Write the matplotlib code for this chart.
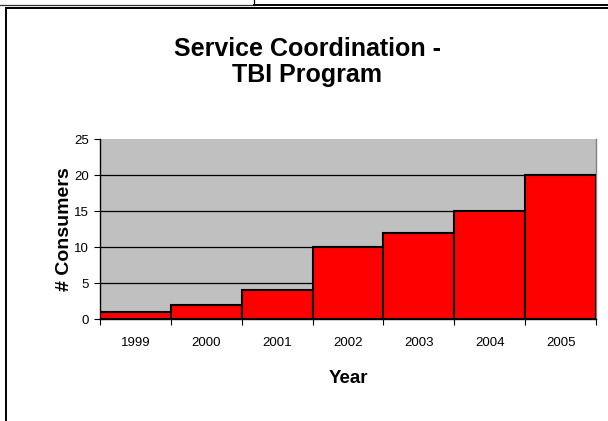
import matplotlib
matplotlib.use("Agg")
import matplotlib.pyplot as plt
from matplotlib.lines import Line2D

years = ["1999", "2000", "2001", "2002", "2003", "2004", "2005"]
consumers = [1, 2, 4, 10, 12, 15, 20]
y_ticks = [0, 5, 10, 15, 20, 25]

plt.rcParams['font.family'] = ['Liberation Sans', 'DejaVu Sans']

W, H = 608, 421
fig = plt.figure(figsize=(W / 100, H / 100), dpi=100)
fig.patch.set_facecolor('white')

def fx(px):
    return px / W

def fy(py):
    return 1 - py / H

# plot area in pixel coords
L, R, T, B = 100, 596, 139, 319
ax = fig.add_axes([fx(L), fy(B), fx(R) - fx(L), fy(T) - fy(B)])
ax.set_facecolor('#C0C0C0')

x = list(range(len(years)))
ax.bar(x, consumers, width=1.0, color='#FF0000', edgecolor='black', linewidth=1.5, zorder=3)
for v in y_ticks[1:-1]:
    ax.axhline(v, color='black', linewidth=0.9, zorder=1)

ax.set_xlim(-0.5, len(years) - 0.5)
ax.set_ylim(0, 25)
ax.set_yticks(y_ticks)
ax.set_xticks(x)
ax.set_xticklabels(years)
ax.set_xticks([i - 0.5 for i in range(len(years) + 1)], minor=True)
ax.tick_params(axis='x', which='major', length=0, pad=13, labelsize=9.5)
ax.tick_params(axis='x', which='minor', length=4, width=0.8, direction='out')
ax.tick_params(axis='y', length=4, width=0.8, direction='out', pad=4, labelsize=9.5)

ax.spines['left'].set_color('black')
ax.spines['bottom'].set_color('black')
ax.spines['left'].set_linewidth(1.0)
ax.spines['bottom'].set_linewidth(1.0)
ax.spines['top'].set_visible(False)
ax.spines['right'].set_color('#808080')
ax.spines['right'].set_linewidth(1.0)

ax.set_ylabel("# Consumers", fontsize=14, fontweight='bold', labelpad=1)
ax.set_xlabel("Year", fontsize=13.5, fontweight='bold', labelpad=15)

fig.text(fx(307), fy(62), "Service Coordination -\nTBI Program", ha='center', va='center',
         fontsize=18, fontweight='bold', linespacing=1.1)

# frame lines
fig.add_artist(Line2D([fx(0), fx(254)], [fy(4.5), fy(4.5)], color='#303030', linewidth=0.9))
fig.add_artist(Line2D([fx(254), fx(254)], [fy(0), fy(4.5)], color='black', linewidth=0.9))
fig.add_artist(Line2D([fx(254), fx(608)], [fy(5), fy(5)], color='black', linewidth=1.4))
fig.add_artist(Line2D([fx(6), fx(608)], [fy(7.5), fy(7.5)], color='black', linewidth=1.4))
fig.add_artist(Line2D([fx(6), fx(6)], [fy(7.5), fy(421)], color='black', linewidth=1.4))

fig.savefig("out.png", dpi=100)
